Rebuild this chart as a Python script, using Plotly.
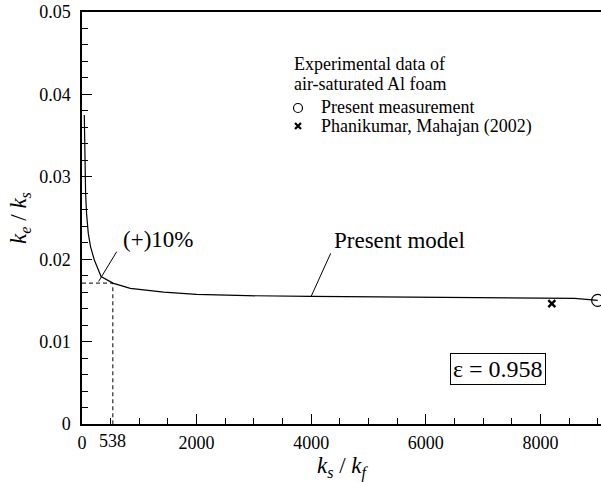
import plotly.graph_objects as go

# Model curve k_e/k_s vs k_s/k_f
model_x = [40, 50, 63, 80, 110, 150, 215, 333, 538, 843, 1426, 2000, 2880, 4000, 5000, 6000, 7000, 8000, 8600, 9000]
model_y = [0.0375, 0.0330, 0.0280, 0.0255, 0.0231, 0.0215, 0.0199, 0.0179, 0.0171, 0.01646, 0.0160, 0.01573, 0.01557, 0.0155, 0.01546, 0.01542, 0.01538, 0.01532, 0.01524, 0.0150]

# Experimental data
meas_name = "Present measurement"
meas_x = [9000]
meas_y = [0.0150]
phani_name = "Phanikumar, Mahajan (2002)"
phani_x = [8200]
phani_y = [0.0146]

ref_x = 538
ref_y = 0.0171

FONT = "Liberation Serif"

L, R, T, B = 82, 0, 12, 58
W, H = 601, 482
XMAX = 9058
def px2x(px):
    return (px - L) / (W - L - R) * XMAX
def py2y(py):
    return (H - B - py) / (H - B - T) * 0.05

circle_marker = dict(symbol="circle-open", size=12, color="black", line=dict(width=1.2))
x_marker = dict(symbol="x-thin", size=7, color="black", line=dict(width=2.4, color="black"))

fig = go.Figure()
fig.add_trace(go.Scatter(x=model_x, y=model_y, mode="lines",
                         line=dict(color="black", width=1.2), showlegend=False))
fig.add_trace(go.Scatter(x=[0, ref_x, ref_x], y=[ref_y, ref_y, 0], mode="lines",
                         line=dict(color="black", width=1, dash="4px,3px"), showlegend=False))
fig.add_trace(go.Scatter(x=meas_x, y=meas_y, mode="markers", name=meas_name,
                         marker=circle_marker, cliponaxis=False, showlegend=False))
fig.add_trace(go.Scatter(x=phani_x, y=phani_y, mode="markers", name=phani_name,
                         marker=x_marker, cliponaxis=False, showlegend=False))

# legend keys (manual legend)
fig.add_trace(go.Scatter(x=[px2x(298)], y=[py2y(108)], mode="markers",
                         marker=dict(symbol="circle-open", size=9, color="black", line=dict(width=1.2)),
                         showlegend=False, hoverinfo="skip"))
fig.add_trace(go.Scatter(x=[px2x(298)], y=[py2y(126)], mode="markers",
                         marker=dict(symbol="x-thin", size=6, color="black", line=dict(width=2.2, color="black")),
                         showlegend=False, hoverinfo="skip"))

# leader lines
fig.add_trace(go.Scatter(x=[290, px2x(116.7)], y=[0.0173, py2y(251.7)], mode="lines",
                         line=dict(color="black", width=1), showlegend=False))
fig.add_trace(go.Scatter(x=[4000, px2x(330.7)], y=[0.0155, py2y(253.3)], mode="lines",
                         line=dict(color="black", width=1), showlegend=False))

txt = dict(family=FONT, color="black")
fig.add_annotation(x=px2x(121), y=py2y(239), text="(+)10%", showarrow=False,
                   xanchor="left", yanchor="middle", font=dict(size=23, **txt))
fig.add_annotation(x=px2x(332), y=py2y(240), text="Present model", showarrow=False,
                   xanchor="left", yanchor="middle", font=dict(size=23, **txt))
fig.add_annotation(x=ref_x, y=-0.012, xref="x", yref="paper", text="538", showarrow=False,
                   xanchor="center", yanchor="top", font=dict(size=18, **txt))
fig.add_annotation(x=px2x(497.5), y=py2y(369), text="\u03b5 = 0.958", showarrow=False,
                   font=dict(size=24, **txt), bordercolor="black", borderwidth=1,
                   borderpad=2, bgcolor="white")
fig.add_annotation(x=px2x(292), y=py2y(64), text="Experimental data of",
                   showarrow=False, xanchor="left", yanchor="middle", font=dict(size=18, **txt))
fig.add_annotation(x=px2x(292), y=py2y(84), text="air-saturated Al foam",
                   showarrow=False, xanchor="left", yanchor="middle", font=dict(size=18, **txt))
fig.add_annotation(x=px2x(319), y=py2y(107), text=meas_name, showarrow=False,
                   xanchor="left", yanchor="middle", font=dict(size=18, **txt))
fig.add_annotation(x=px2x(319), y=py2y(126), text=phani_name, showarrow=False,
                   xanchor="left", yanchor="middle", font=dict(size=18, **txt))

fig.update_layout(
    width=W, height=H,
    margin=dict(l=L, r=R, t=T, b=B),
    paper_bgcolor="white", plot_bgcolor="white",
    font=dict(family=FONT, size=18, color="black"),
    showlegend=False,
    xaxis=dict(range=[0, XMAX], tickmode="linear", tick0=0, dtick=2000,
               ticks="inside", ticklen=10, tickwidth=1.3, tickcolor="black",
               showline=True, linecolor="black", linewidth=1.5, mirror=True,
               showgrid=False, zeroline=False, ticklabelstandoff=2,
               minor=dict(dtick=500, ticks="inside", ticklen=6, tickwidth=1.3, tickcolor="black", showgrid=False),
               title=dict(text="<i>k</i><sub><i>s</i></sub> / <i>k</i><sub><i>f</i></sub>",
                          font=dict(family=FONT, size=23), standoff=8),
               tickfont=dict(family=FONT, size=18, color="black")),
    yaxis=dict(range=[0, 0.05], tickmode="linear", tick0=0, dtick=0.01,
               ticks="inside", ticklen=10, tickwidth=1.3, tickcolor="black",
               showline=True, linecolor="black", linewidth=1.5,
               showgrid=False, zeroline=False, ticklabelstandoff=6,
               minor=dict(dtick=0.002, ticks="inside", ticklen=6, tickwidth=1.3, tickcolor="black", showgrid=False),
               title=dict(text="<i>k</i><sub><i>e</i></sub> / <i>k</i><sub><i>s</i></sub>",
                          font=dict(family=FONT, size=23), standoff=6),
               tickfont=dict(family=FONT, size=18, color="black")),
)

fig.write_html("out.html")
